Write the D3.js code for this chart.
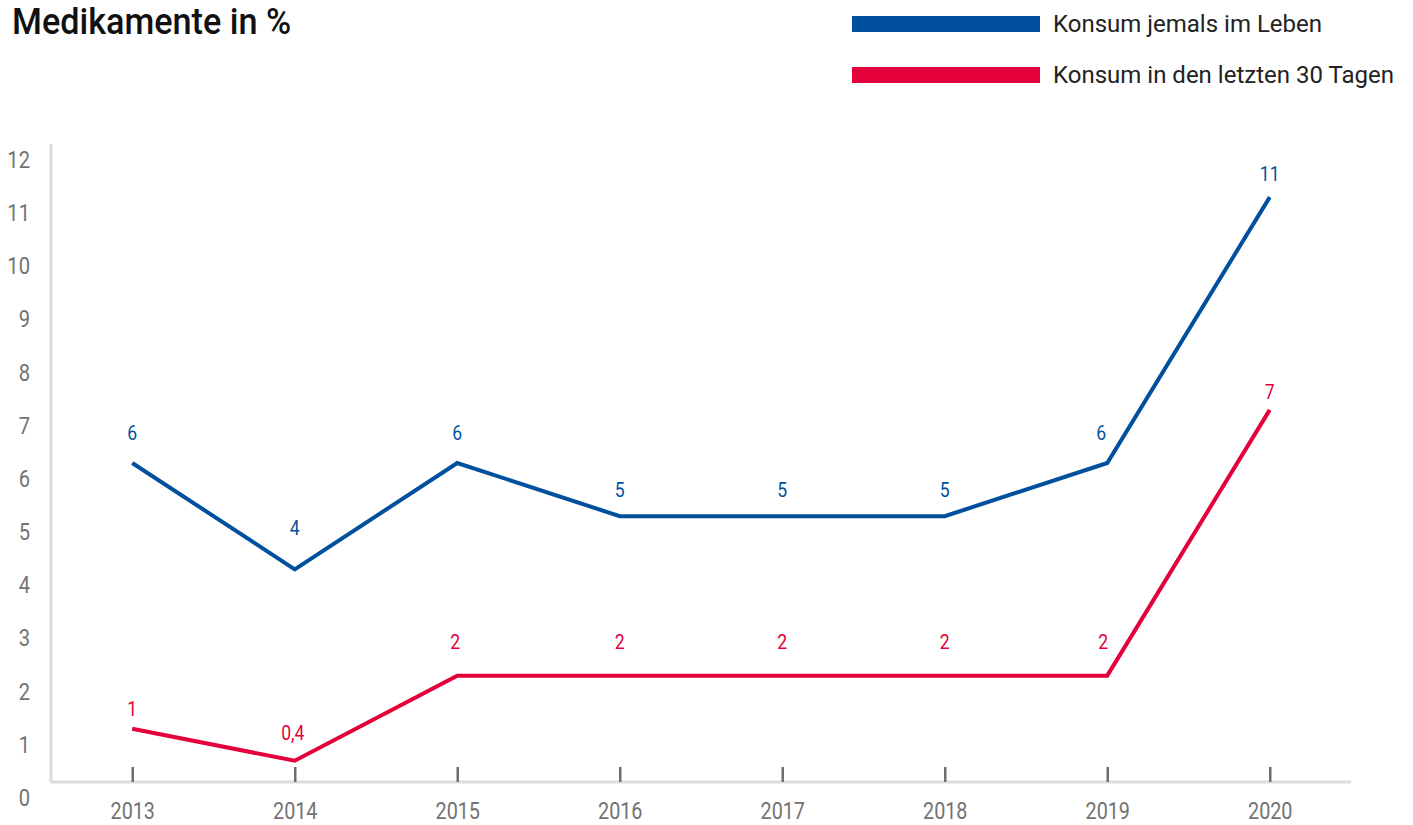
<!DOCTYPE html>
<html lang="de">
<head>
<meta charset="utf-8">
<title>Medikamente in %</title>
<script src="https://cdn.jsdelivr.net/npm/d3@7"></script>
<style>
  html, body { margin: 0; padding: 0; background: #fff; }
  svg { display: block; font-family: Roboto, "Noto Sans", sans-serif; }
</style>
</head>
<body>
<svg id="chart" width="1413" height="825"></svg>
<script>
// ---- data ----
const years = [2013, 2014, 2015, 2016, 2017, 2018, 2019, 2020];
const everUse = [6, 4, 6, 5, 5, 5, 6, 11];        // Konsum jemals im Leben
const last30Days = [1, 0.4, 2, 2, 2, 2, 2, 7];    // Konsum in den letzten 30 Tagen
const yTicks = [0, 1, 2, 3, 4, 5, 6, 7, 8, 9, 10, 11, 12];
const seriesNames = ["Konsum jemals im Leben", "Konsum in den letzten 30 Tagen"];
const title = "Medikamente in %";

// ---- layout ----
const colors = ["#00509e", "#e4003a"];
const grey = "#737373";
const plot = { left: 51, right: 1351, top: 144, bottom: 782 };
// vertical lift of each value label above its point, so labels clear the lines
const labelLift = [
  [30, 41, 30, 26, 26, 26, 30, 23],
  [20, 28, 34, 34, 34, 34, 34, 18]
];
const labelShift = [
  [0, 0, 0, 0, 0, 0, -6, 0],
  [0, -2, -2, 0, 0, 0, -4, 0]
];

const svg = d3.select("#chart");

const x = d3.scalePoint().domain(years).range([plot.left, plot.right]).padding(0.5);
const y = d3.scaleLinear().domain([0, 12]).range([plot.bottom, plot.top]);

const fmt = v => String(v).replace(".", ",");

// squeeze a text horizontally around its anchor for a condensed look
function narrow(sel, factor) {
  sel.each(function () {
    const tx = +this.getAttribute("x") || 0;
    const ty = +this.getAttribute("y") || 0;
    this.setAttribute("x", 0);
    this.setAttribute("y", 0);
    this.setAttribute("transform", `translate(${tx},${ty}) scale(${factor},1)`);
  });
}

// title
svg.append("text")
  .attr("x", 12).attr("y", 33.5)
  .attr("font-size", 36).attr("font-weight", 500).attr("fill", "#111")
  .text(title)
  .call(narrow, 0.95);

// legend
const legend = svg.append("g").selectAll("g").data(seriesNames).join("g")
  .attr("transform", (d, i) => `translate(852, ${24 + i * 51})`);
legend.append("rect")
  .attr("x", 0).attr("y", -8).attr("width", 188).attr("height", 16)
  .attr("fill", (d, i) => colors[i]);
legend.append("text")
  .attr("x", 201).attr("y", 0).attr("dy", "0.35em")
  .attr("font-size", 24).attr("fill", "#222")
  .text(d => d);

// axes
const xAxis = d3.axisBottom(x).tickSize(0).tickPadding(0).tickFormat(d => d);
const gx = svg.append("g").attr("transform", `translate(0, ${plot.bottom})`).call(xAxis);
gx.select(".domain").attr("d", `M${plot.left},0H${plot.right}`)
  .attr("stroke", "#dcdcdc").attr("stroke-width", 3);
gx.selectAll(".tick line")
  .attr("y1", -15).attr("y2", 0)
  .attr("stroke", "#6e6e6e").attr("stroke-width", 2.5);
gx.selectAll(".tick text")
  .attr("x", 0).attr("y", 29).attr("dy", "0.35em")
  .attr("font-size", 23).attr("font-family", "Roboto, sans-serif").attr("fill", grey)
  .call(narrow, 0.86);

const yAxis = d3.axisLeft(y).tickValues(yTicks).tickSize(0).tickPadding(0).tickFormat(d => d);
const gy = svg.append("g").attr("transform", `translate(${plot.left}, 0)`).call(yAxis);
gy.select(".domain").attr("d", `M0,${plot.top}V${plot.bottom}`)
  .attr("stroke", "#dcdcdc").attr("stroke-width", 3);
gy.selectAll(".tick text")
  .attr("x", -21).attr("y", 15).attr("dy", "0.35em")
  .attr("font-size", 24).attr("font-family", "Roboto, sans-serif").attr("fill", grey)
  .call(narrow, 0.84);

// lines and value labels
const series = [everUse, last30Days];
const line = d3.line().x((d, i) => x(years[i])).y(d => y(d));

series.forEach((values, s) => {
  svg.append("path")
    .datum(values)
    .attr("d", line)
    .attr("fill", "none")
    .attr("stroke", colors[s])
    .attr("stroke-width", 4)
    .attr("stroke-linejoin", "miter");

  svg.append("g").selectAll("text").data(values).join("text")
    .attr("x", (d, i) => x(years[i]) + labelShift[s][i])
    .attr("y", (d, i) => y(d) - labelLift[s][i])
    .attr("dy", "0.35em")
    .attr("text-anchor", "middle")
    .attr("font-size", 20)
    .attr("fill", colors[s])
    .text(d => fmt(d))
    .call(narrow, 0.88);
});
</script>
</body>
</html>
